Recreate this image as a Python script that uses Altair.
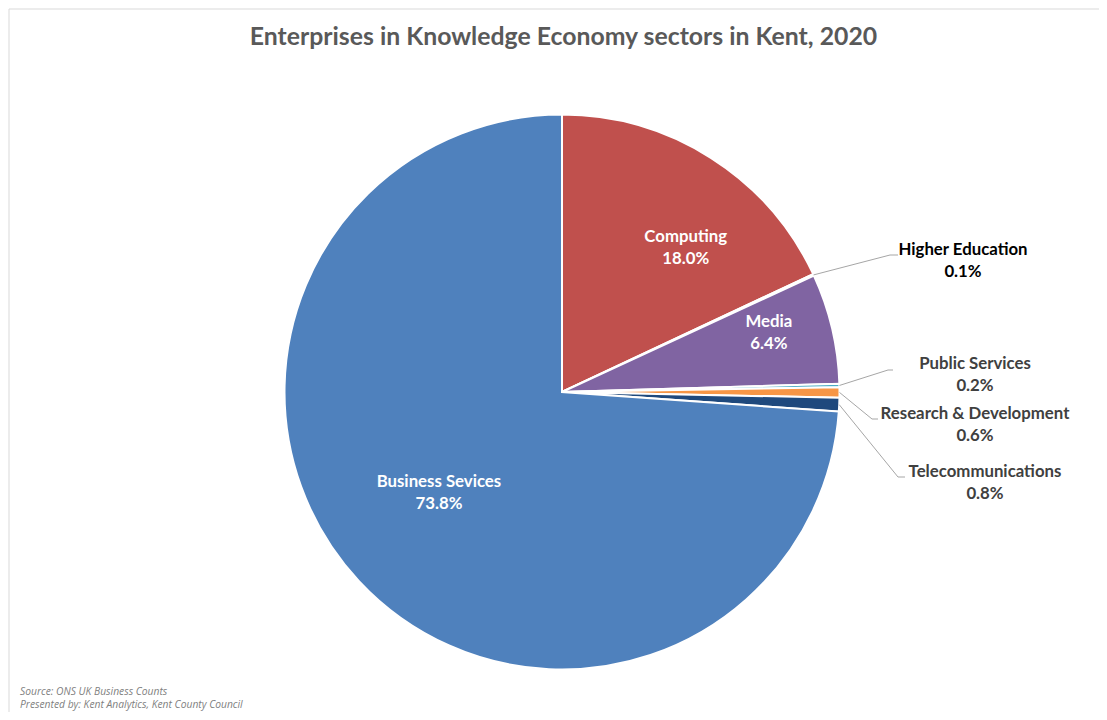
import math
import altair as alt
import pandas as pd

# ---------------- data ----------------
sectors = ["Computing", "Higher Education", "Media", "Public Services",
           "Research & Development", "Telecommunications", "Business Sevices"]
shares = [18.0, 0.1, 6.4, 0.2, 0.6, 0.8, 73.8]
colors = ["#C0504D", "#9BBB59", "#8064A2", "#4BACC6", "#F79646", "#1F497D", "#4F81BD"]
chart_title = "Enterprises in Knowledge Economy sectors in Kent, 2020"
source_lines = ["Source: ONS UK Business Counts",
                "Presented by: Kent Analytics, Kent County Council"]

# ---------------- layout (styles) ----------------
W, H = 1000, 600
PAD = {"left": 54, "top": 84, "right": 37, "bottom": 20}
CX, CY = W / 2, H / 2
R = 277.5
FONT = "Lato"
LABEL_SIZE = 16.8

# inside labels: (radius, angle shift in degrees from slice mid-angle)
inside = {"Computing": (190, 8.2), "Media": (215, -2.6), "Business Sevices": (159, 3.7)}
# outside labels: label centre and leader elbow relative to pie centre, run of the horizontal tail
outside = {
    "Higher Education": {"label": (401, -131.5), "elbow": (328, -137), "run": 8, "color": "#000000"},
    "Public Services": {"label": (413, -17), "elbow": (326, -22), "run": 5, "color": "#404040"},
    "Research & Development": {"label": (413, 33), "elbow": (310, 27), "run": 6, "color": "#404040"},
    "Telecommunications": {"label": (423, 90.5), "elbow": (336, 85), "run": 7, "color": "#404040"},
}

df = pd.DataFrame({"sector": sectors, "share": shares, "order": list(range(len(sectors)))})
total = df["share"].sum()
cum = df["share"].cumsum()
df["mid"] = (cum - df["share"] / 2) / total * 2 * math.pi
df["pct"] = df["share"].map(lambda v: f"{v:.1f}%")

lab_rows, line_rows = [], []
for _, r in df.iterrows():
    s = r["sector"]
    if s in inside:
        rad, shift = inside[s]
        a = r["mid"] + math.radians(shift)
        lab_rows.append({"sector": s, "pct": r["pct"], "x": CX + rad * math.sin(a),
                         "y": CY - rad * math.cos(a), "col": "#FFFFFF"})
    elif s in outside:
        o = outside[s]
        lab_rows.append({"sector": s, "pct": r["pct"], "x": CX + o["label"][0],
                         "y": CY + o["label"][1], "col": o["color"]})
        sx, sy = CX + R * math.sin(r["mid"]), CY - R * math.cos(r["mid"])
        ex, ey = CX + o["elbow"][0], CY + o["elbow"][1]
        line_rows += [{"sector": s, "k": 0, "x": sx, "y": sy},
                      {"sector": s, "k": 1, "x": ex, "y": ey},
                      {"sector": s, "k": 2, "x": ex + o["run"], "y": ey}]
labels = pd.DataFrame(lab_rows)
leaders = pd.DataFrame(line_rows)

xs = alt.Scale(domain=[0, W], range=[0, W], nice=False, zero=False)
ys = alt.Scale(domain=[0, H], range=[0, H], nice=False, zero=False)

pie = alt.Chart(df).mark_arc(outerRadius=R, stroke="white", strokeWidth=2).encode(
    theta=alt.Theta("share:Q", stack=True),
    color=alt.Color("sector:N", scale=alt.Scale(domain=sectors, range=colors), legend=None),
    order=alt.Order("order:Q"),
)

lines = alt.Chart(leaders).mark_line(color="#A6A6A6", strokeWidth=1).encode(
    x=alt.X("x:Q", scale=xs, axis=None),
    y=alt.Y("y:Q", scale=ys, axis=None),
    detail="sector:N",
    order="k:Q",
)

name_txt = alt.Chart(labels).mark_text(font=FONT, fontSize=LABEL_SIZE, fontWeight="bold", dy=-11,
                                       align="center", baseline="middle").encode(
    x=alt.X("x:Q", scale=xs, axis=None),
    y=alt.Y("y:Q", scale=ys, axis=None),
    text="sector:N",
    color=alt.Color("col:N", scale=None),
)
pct_txt = alt.Chart(labels).mark_text(font=FONT, fontSize=LABEL_SIZE, fontWeight="bold", dy=11,
                                      align="center", baseline="middle").encode(
    x=alt.X("x:Q", scale=xs, axis=None),
    y=alt.Y("y:Q", scale=ys, axis=None),
    text="pct:N",
    color=alt.Color("col:N", scale=None),
)

title_df = pd.DataFrame({"t": [chart_title]})
title = alt.Chart(title_df).mark_text(font=FONT, fontSize=24.8, fontWeight="bold", color="#595959",
                                      align="center", baseline="alphabetic").encode(
    x=alt.value(CX + 1.5), y=alt.value(-47), text="t:N")

src_df = pd.DataFrame({"t": source_lines, "i": [0, 1]})
source = alt.Chart(src_df).mark_text(font="Open Sans", fontSize=10.3, fontStyle="italic",
                                     color="#7F7F7F", align="left", baseline="middle").encode(
    x=alt.value(-42),
    y=alt.Y("i:Q", scale=alt.Scale(domain=[0, 1], range=[600, 613]), axis=None),
    text="t:N")

frame_top = alt.Chart(title_df).mark_rule(color="#D9D9D9", strokeWidth=1).encode(
    x=alt.value(-53), x2=alt.value(W + 100), y=alt.value(-83))
frame_left = alt.Chart(title_df).mark_rule(color="#D9D9D9", strokeWidth=1).encode(
    x=alt.value(-53), y=alt.value(-83), y2=alt.value(H + 100))

chart = alt.layer(frame_top, frame_left, pie, lines, name_txt, pct_txt, title, source).resolve_scale(
    y="independent"
).properties(
    width=W, height=H, padding=PAD,
    autosize=alt.AutoSizeParams(type="none"),
    background="white",
).configure_view(stroke=None)

chart.save("out.html", embed_options={"renderer": "svg", "actions": False})
